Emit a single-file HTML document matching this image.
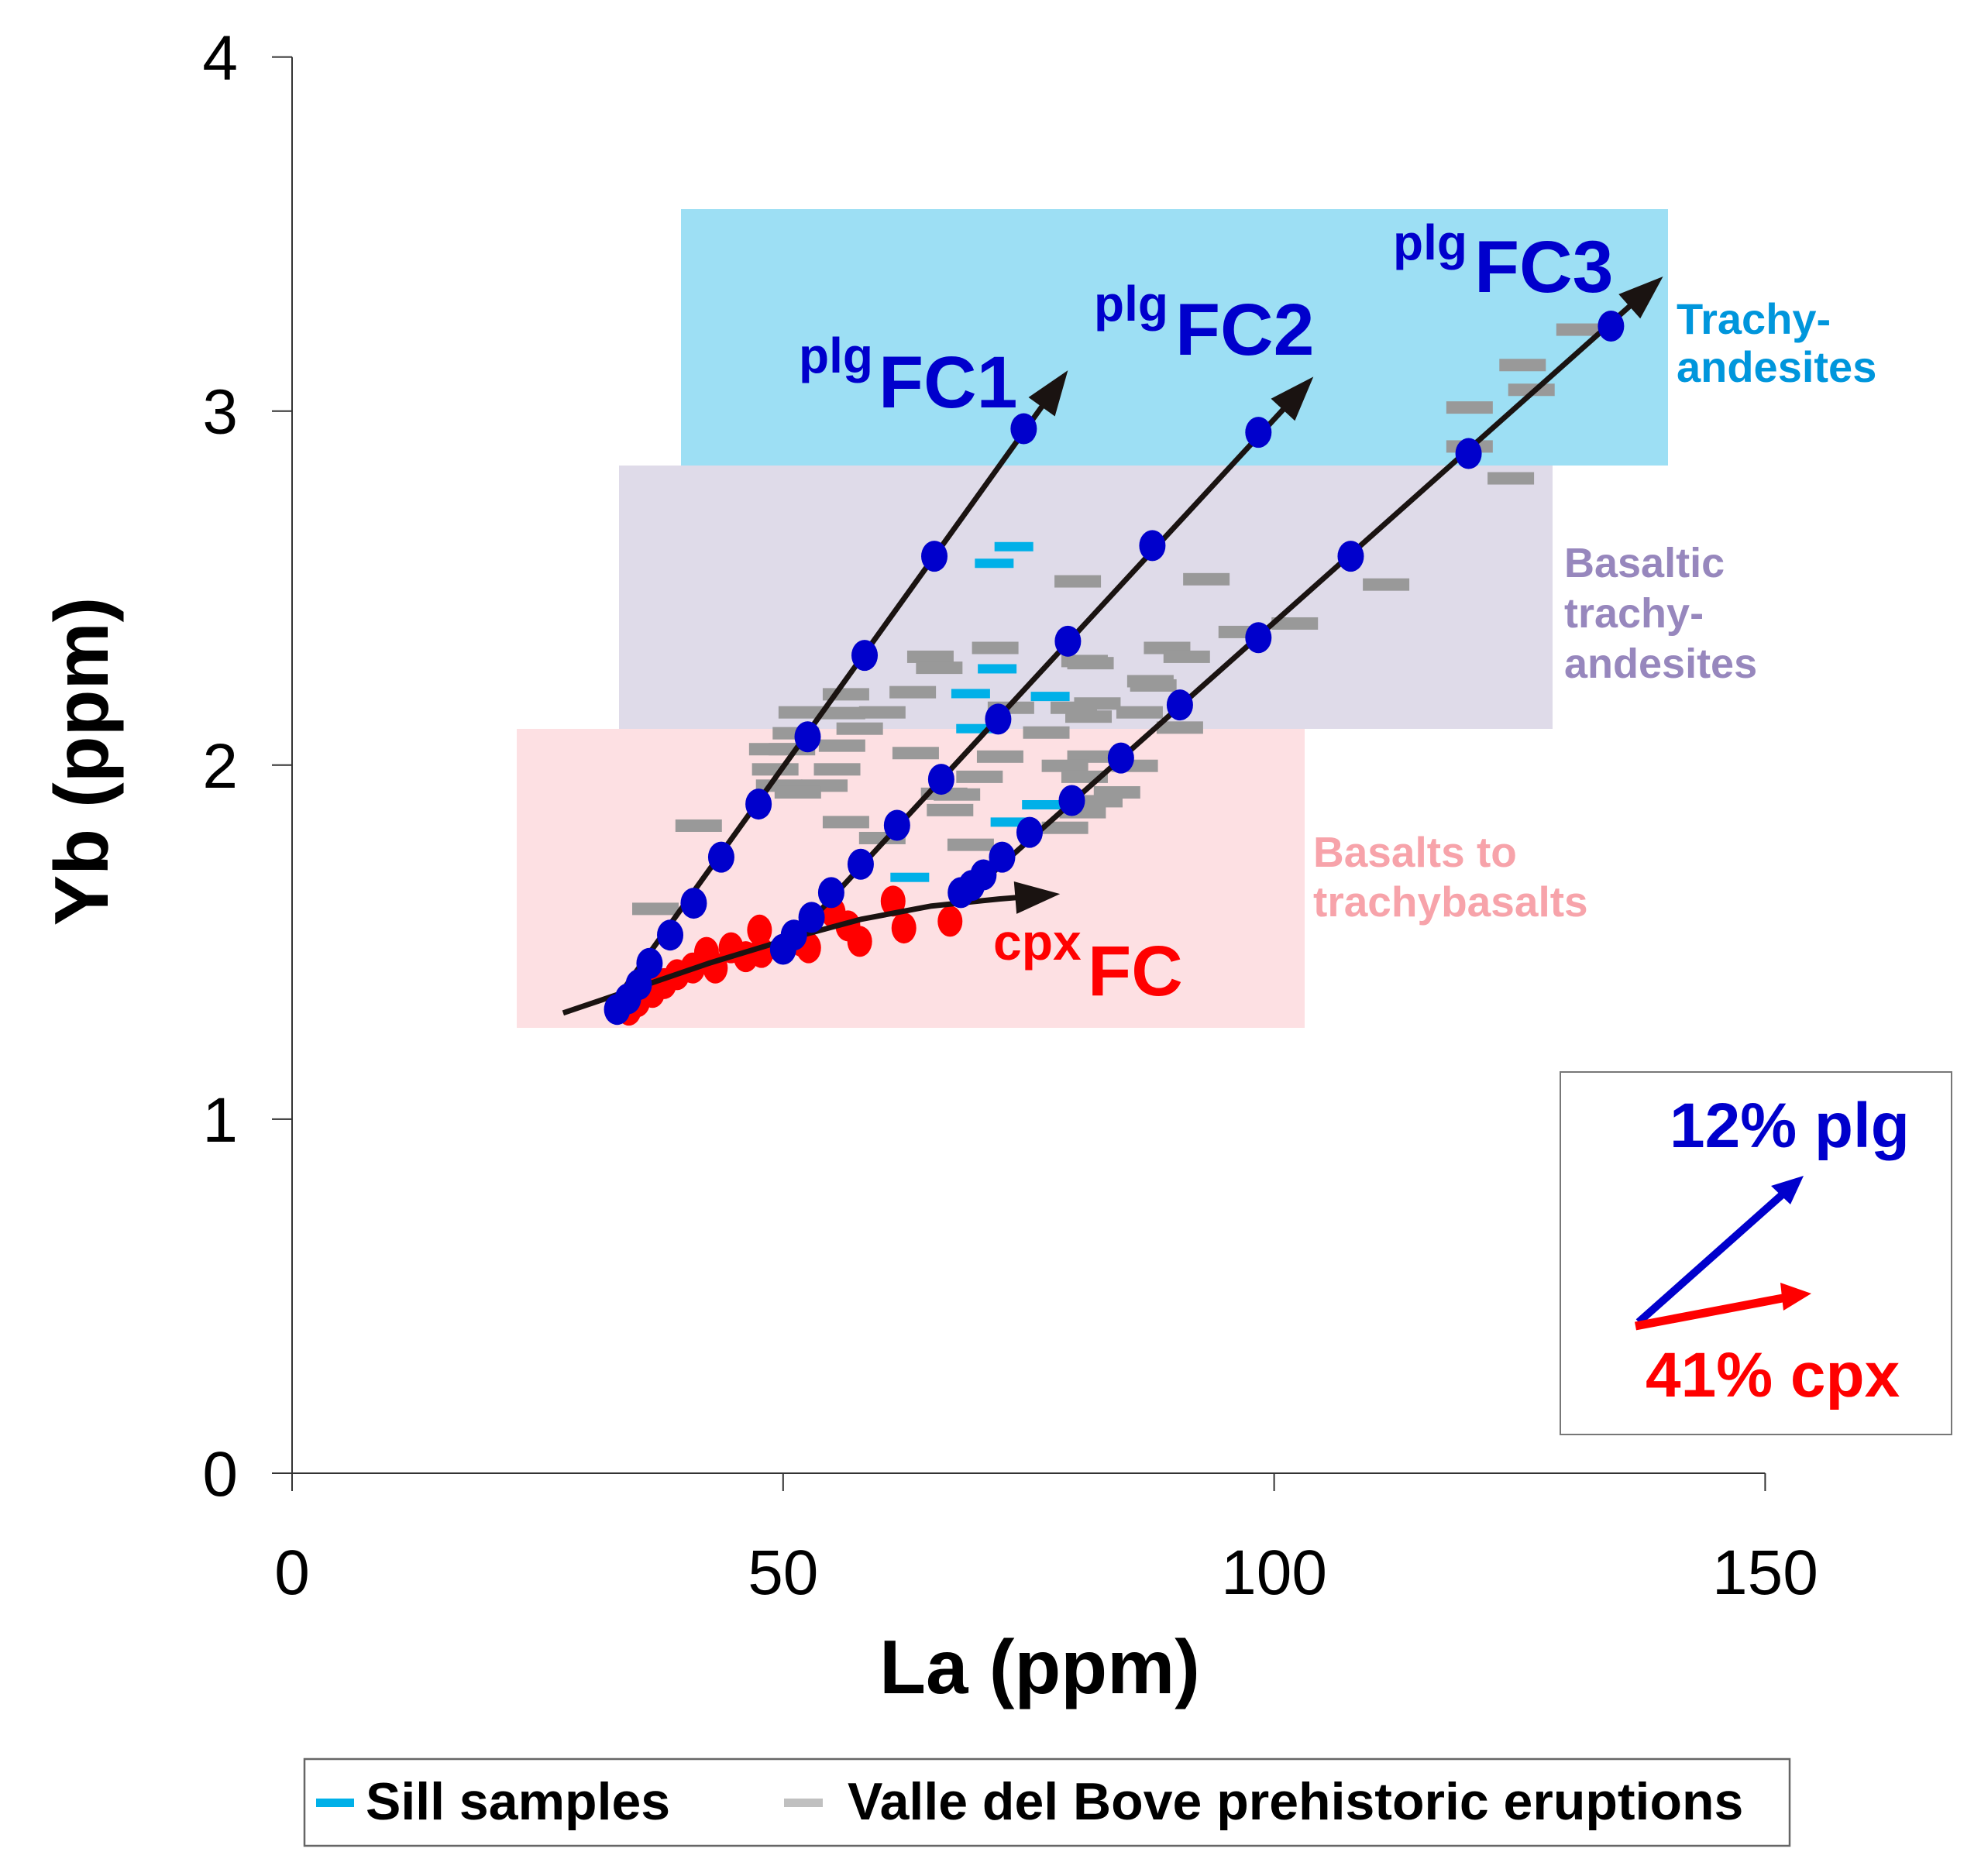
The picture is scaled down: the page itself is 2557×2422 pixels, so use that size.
<!DOCTYPE html>
<html><head><meta charset="utf-8"><style>
html,body{margin:0;padding:0;background:#fff}
svg{display:block}
text{font-family:"Liberation Sans",Arial,sans-serif}
</style></head><body>
<svg id="chart" xmlns="http://www.w3.org/2000/svg" width="2557" height="2422" viewBox="0 0 2557 2422">
<rect x="879" y="270" width="1274" height="331" fill="#9ddff4"/>
<rect x="799" y="601" width="1205" height="340" fill="#dfdbe9"/>
<rect x="667" y="941" width="1017" height="386" fill="#fde0e3"/>
<g id="axes"></g>
<g id="marks"></g>
<g fill="#0000cc" font-weight="bold"><text x="1031" y="481" font-size="64">plg</text><text x="1134" y="526" font-size="95">FC1</text></g>
<g fill="#0000cc" font-weight="bold"><text x="1412" y="414" font-size="64">plg</text><text x="1517" y="458" font-size="95">FC2</text></g>
<g fill="#0000cc" font-weight="bold"><text x="1798" y="335" font-size="64">plg</text><text x="1903" y="377" font-size="95">FC3</text></g>
<g fill="#ff0000" font-weight="bold"><text x="1282" y="1239" font-size="66">cpx</text><text x="1404" y="1285" font-size="92">FC</text></g>
<g fill="#0096dc" font-weight="bold" font-size="56"><text x="2164" y="431">Trachy-</text><text x="2164" y="493">andesites</text></g>
<g fill="#9787bd" font-weight="bold" font-size="54"><text x="2019" y="745">Basaltic</text><text x="2019" y="810">trachy-</text><text x="2019" y="875">andesites</text></g>
<g fill="#f7a3aa" font-weight="bold" font-size="55"><text x="1695" y="1119">Basalts to</text><text x="1695" y="1183">trachybasalts</text></g>
<g>
<rect x="2014" y="1384" width="505" height="468" fill="#fff" stroke="#777" stroke-width="2"/>
<text x="2155" y="1481" font-size="82" font-weight="bold" fill="#0000cc">12% plg</text>
<line x1="2115" y1="1707" x2="2303" y2="1540" stroke="#0000cc" stroke-width="10"/>
<polygon points="2328,1518 2286,1531 2311,1555" fill="#0000cc"/>
<line x1="2111" y1="1712" x2="2306" y2="1675" stroke="#ff0000" stroke-width="11"/>
<polygon points="2338,1670 2298,1656 2302,1692" fill="#ff0000"/>
<text x="2124" y="1803" font-size="82" font-weight="bold" fill="#ff0000">41% cpx</text>
</g>
<text x="1342" y="2186" font-size="98" font-weight="bold" text-anchor="middle">La (ppm)</text>
<text transform="translate(139,983) rotate(-90)" font-size="98" font-weight="bold" text-anchor="middle">Yb (ppm)</text>
<g>
<rect x="393" y="2271" width="1917" height="112" fill="#fff" stroke="#666" stroke-width="2.5"/>
<rect x="408" y="2322" width="49" height="11" fill="#00b0e8"/>
<text x="472" y="2349" font-size="68" font-weight="bold">Sill samples</text>
<rect x="1012" y="2322" width="50" height="11" fill="#c0c0c0"/>
<text x="1094" y="2349" font-size="68" font-weight="bold">Valle del Bove prehistoric eruptions</text>
</g>
</svg>
<script>
const xTicks = [0, 50, 100, 150];
const yTicks = [0, 1, 2, 3, 4];
const fc1X = [33.1,34.2,35.3,36.4,38.5,40.9,43.7,47.5,52.5,58.3,65.4,74.5];
const fc1Y = [1.31,1.34,1.38,1.44,1.52,1.61,1.74,1.89,2.08,2.31,2.59,2.95];
const fc2X = [50.0,51.1,52.9,54.9,57.9,61.6,66.1,71.9,79.0,87.6,98.4];
const fc2Y = [1.48,1.52,1.57,1.64,1.72,1.83,1.96,2.13,2.35,2.62,2.94];
const fc3X = [68.1,69.2,70.4,72.3,75.1,79.4,84.4,90.4,98.4,107.8,119.8,134.3];
const fc3Y = [1.64,1.66,1.69,1.74,1.81,1.90,2.02,2.17,2.36,2.59,2.88,3.24];
const cpxX = [36.7,39.2,40.8,42.2,43.1,44.7,46.2,47.6,47.8,51.9,52.6,55.1,56.6,57.8,61.2,62.3,67.0,37.9,35.2,34.3];
const cpxY = [1.358,1.408,1.427,1.471,1.427,1.484,1.459,1.534,1.471,1.502,1.484,1.584,1.546,1.502,1.616,1.540,1.559,1.383,1.332,1.308];
const valleX = [41.4,37.0,56.4,60.1,69.1,67.0,66.4,63.5,55.5,54.2,49.2,49.6,51.5,50.9,48.9,56.0,57.8,51.3,56.0,51.9,60.1,56.4,63.2,65.0,65.9,71.6,80.0,93.1,96.7,102.1,89.1,91.1,80.7,81.3,87.4,87.7,82.0,81.1,86.3,73.2,76.8,90.4,72.1,70.0,81.3,85.8,78.7,80.7,84.0,82.2,80.5,78.7,67.7,79.6,131.1,125.3,126.2,119.9,119.9,124.1,111.4];
const valleY = [1.829,1.594,1.839,1.794,1.775,1.873,1.919,2.034,1.988,1.942,1.988,1.942,1.923,2.045,2.045,2.055,2.103,2.090,2.147,2.149,2.149,2.200,2.206,2.306,2.275,2.331,2.519,2.525,2.376,2.400,2.331,2.306,2.294,2.288,2.237,2.225,2.174,2.137,2.149,2.162,2.092,2.106,2.024,1.967,2.024,1.998,1.998,1.967,1.923,1.898,1.867,1.823,1.917,2.162,3.23,3.13,3.06,3.01,2.90,2.81,2.51];
const sillX = [73.5,71.5,71.8,69.1,77.2,69.6,62.9,76.3,73.1];
const sillY = [2.617,2.570,2.272,2.202,2.194,2.103,1.683,1.888,1.839];
const trendStartX = [33.8,51.3,69.1];
const trendStartY = [1.369,1.515,1.641];
const trendEndX = [79.0,104.0,139.6];
const trendEndY = [3.115,3.097,3.38];
const cpxCurveX = [27.6,34,42.4,51.3,58,65.1,72,78.2];
const cpxCurveY = [1.30,1.36,1.44,1.515,1.565,1.602,1.622,1.636];

const NS = "http://www.w3.org/2000/svg";
const X0 = 377, XS = 12.676, Y0 = 1902, YS = 457.1;
function sx(v){return X0 + v*XS;}
function sy(v){return Y0 - v*YS;}
function mk(tag, attrs, parent){const e=document.createElementNS(NS,tag);for(const k in attrs)e.setAttribute(k,attrs[k]);parent.appendChild(e);return e;}
const axes=document.getElementById('axes');
const marks=document.getElementById('marks');

let ax=mk('line',{x1:sx(0),y1:sy(0),x2:sx(0),y2:sy(4),stroke:'#333','stroke-width':2},axes);


let axx=mk('line',{x1:sx(0),y1:sy(0),x2:sx(150),y2:sy(0),stroke:'#333','stroke-width':2},axes);


yTicks.forEach(t=>{
  const l=mk('line',{x1:sx(0)-26,y1:sy(t),x2:sx(0),y2:sy(t),stroke:'#333','stroke-width':2},axes);
  
  
  const tx=mk('text',{x:307,y:sy(t)+29,'font-size':82,'text-anchor':'end'},axes);
  tx.textContent=t;
  
  
});
xTicks.forEach(t=>{
  const l=mk('line',{x1:sx(t),y1:sy(0),x2:sx(t),y2:sy(0)+23,stroke:'#333','stroke-width':2},axes);
  
  
  const tx=mk('text',{x:sx(t),y:2058,'font-size':82,'text-anchor':'middle'},axes);
  tx.textContent=t;
  
  
});

valleX.forEach((v,i)=>{
  const r=mk('rect',{x:sx(v)-30,y:sy(valleY[i])-8,width:60,height:16,fill:'#999999'},marks);
  
  
});
sillX.forEach((v,i)=>{
  const r=mk('rect',{x:sx(v)-25,y:sy(sillY[i])-6,width:50,height:12,fill:'#00b0e8'},marks);
  
  
});
cpxX.forEach((v,i)=>{
  const e=mk('ellipse',{cx:sx(v),cy:sy(cpxY[i]),rx:16,ry:20,fill:'#ff0000'},marks);
  
  
});
function arrowHead(x1,y1,x2,y2,len,hw,name){
  const a=Math.atan2(y2-y1,x2-x1);
  const bx=x2-len*Math.cos(a), by=y2-len*Math.sin(a);
  const px=-Math.sin(a)*hw, py=Math.cos(a)*hw;
  const p=mk('polygon',{points:`${x2},${y2} ${bx+px},${by+py} ${bx-px},${by-py}`,fill:'#1a1311'},marks);
  
  
  return [bx,by];
}
trendStartX.forEach((v,i)=>{
  const x1=sx(v),y1=sy(trendStartY[i]),x2=sx(trendEndX[i]),y2=sy(trendEndY[i]);
  const a=Math.atan2(y2-y1,x2-x1);
  const l=mk('line',{x1:x1,y1:y1,x2:x2-40*Math.cos(a),y2:y2-40*Math.sin(a),stroke:'#1a1311','stroke-width':7},marks);
  
  
  arrowHead(x1,y1,x2,y2,58,21,'plg-fc'+(i+1)+'-arrowhead');
});
{
  const n=cpxCurveX.length;
  const x2=sx(cpxCurveX[n-1]),y2=sy(cpxCurveY[n-1]);
  const xa=sx(cpxCurveX[n-2]),ya=sy(cpxCurveY[n-2]);
  let d='M'+sx(cpxCurveX[0])+','+sy(cpxCurveY[0]);
  for(let i=1;i<n-1;i++) d+=' L'+sx(cpxCurveX[i])+','+sy(cpxCurveY[i]);
  const a=Math.atan2(y2-ya,x2-xa);
  d+=' L'+(x2-40*Math.cos(a))+','+(y2-40*Math.sin(a));
  const p=mk('path',{d:d,fill:'none',stroke:'#1a1311','stroke-width':7,'stroke-linejoin':'round'},marks);
  
  
  arrowHead(xa,ya,x2,y2,58,21,'cpx-fc-arrowhead');
}
[[fc1X,fc1Y,'plg-fc1-point'],[fc2X,fc2Y,'plg-fc2-point'],[fc3X,fc3Y,'plg-fc3-point']].forEach(s=>{
  s[0].forEach((v,i)=>{
    const e=mk('ellipse',{cx:sx(v),cy:sy(s[1][i]),rx:17,ry:20,fill:'#0000cc'},marks);
    
    
  });
});
</script>
</body></html>
